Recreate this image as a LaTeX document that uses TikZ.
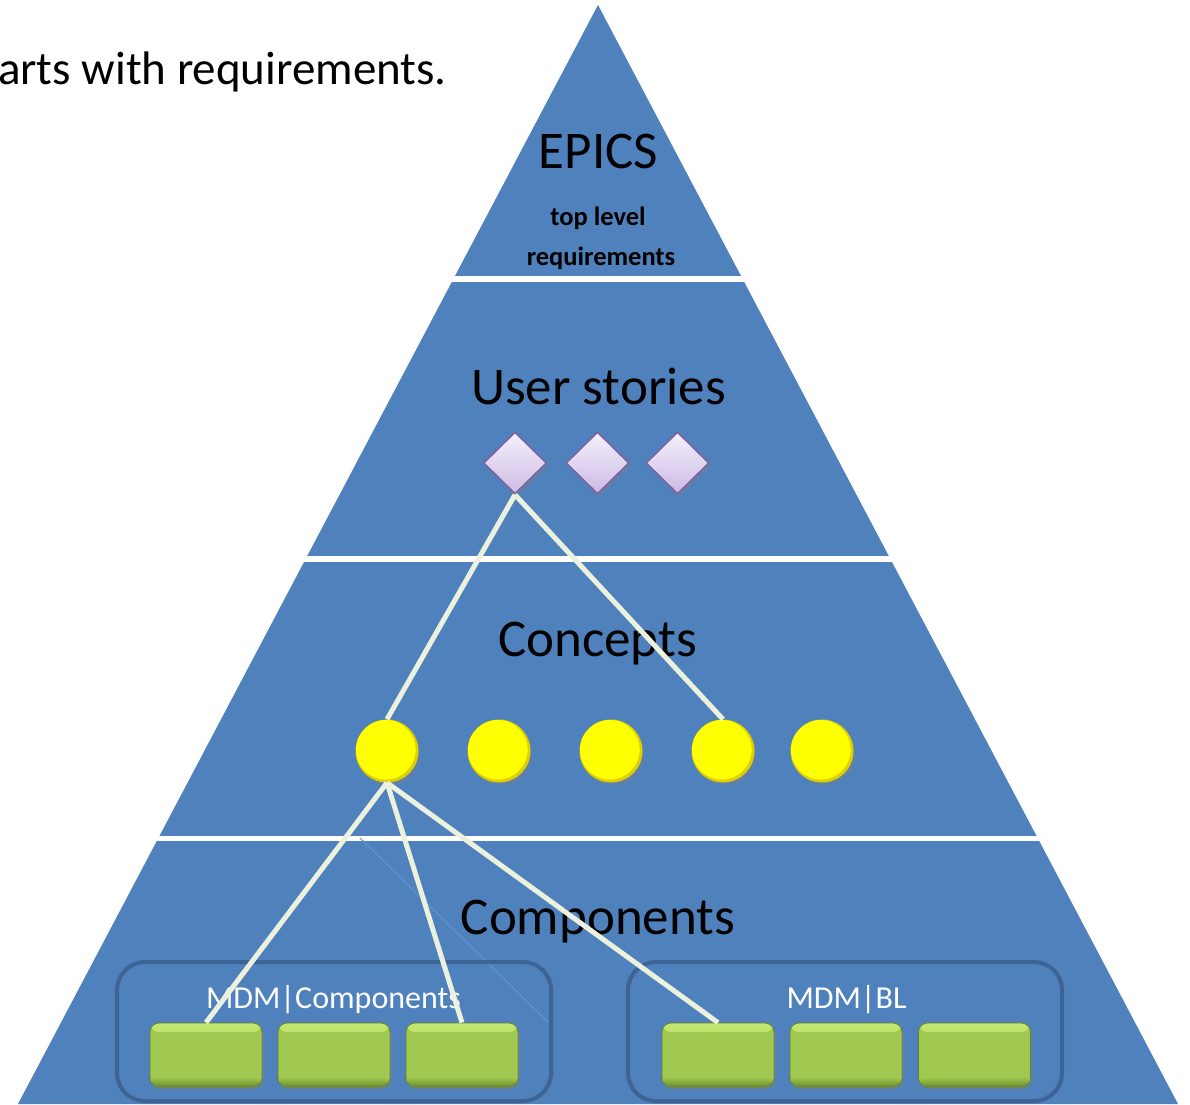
\documentclass[tikz,border=0pt]{standalone}
\usepackage{fontspec}
\setmainfont{Carlito}
\usetikzlibrary{shapes.geometric,shadows}
\definecolor{pyr}{RGB}{79,129,189}
\definecolor{linkc}{RGB}{236,241,222}
\definecolor{grpc}{RGB}{62,100,150}
\definecolor{diaTop}{RGB}{245,241,252}
\definecolor{diaBot}{RGB}{204,186,228}
\definecolor{diaBd}{RGB}{128,96,160}
\definecolor{ballc}{RGB}{255,255,0}
\definecolor{ballrim}{RGB}{222,208,0}
\definecolor{grHi}{RGB}{196,230,110}
\definecolor{grMid}{RGB}{160,200,80}
\definecolor{grLo}{RGB}{108,138,42}
\definecolor{grBd}{RGB}{104,130,40}
\definecolor{faint}{RGB}{98,148,208}
\begin{document}
\begin{tikzpicture}[x=1pt,y=-1pt,
  title/.style={font=\fontsize{53}{60}\selectfont, text=black, inner sep=0, anchor=base},
  smalltxt/.style={font=\bfseries\fontsize{26.5}{30}\selectfont, text=black, inner sep=0, anchor=base},
  story/.style={diamond, minimum width=63pt, minimum height=62pt, inner sep=0,
    draw=diaBd, line width=1.5pt, top color=diaTop, bottom color=diaBot,
    drop shadow={opacity=0.35, shadow xshift=2pt, shadow yshift=-3pt}},
  concept/.style={circle, minimum size=63pt, inner sep=0, fill=ballrim,
    path picture={\fill[ballc] ([xshift=-1.2pt,yshift=1.2pt]path picture bounding box.center) circle (29.8pt);},
    drop shadow={opacity=0.35, shadow xshift=2pt, shadow yshift=-3pt}},
  comp/.style={rectangle, rounded corners=9pt, minimum width=112pt, minimum height=64pt,
    inner sep=0, draw=grBd, line width=0.8pt, fill=grMid,
    path picture={
      \fill[top color=grHi, bottom color=grMid] (path picture bounding box.north west) rectangle ([yshift=-9pt]path picture bounding box.north east);
      \fill[top color=grMid, bottom color=grLo] ([yshift=10pt]path picture bounding box.south west) rectangle (path picture bounding box.south east);},
    drop shadow={opacity=0.35, shadow xshift=2pt, shadow yshift=-3pt}},
  groupbox/.style={rectangle, draw=grpc, line width=4pt, rounded corners=28pt,
    minimum width=434pt, minimum height=139pt, inner sep=0},
  glabel/.style={text=white, font=\fontsize{32}{38}\selectfont, anchor=base, inner sep=0},
  link/.style={draw=linkc, line width=5pt}]
\useasboundingbox (0,0) rectangle (1190,1104);
% pyramid
\fill[pyr] (598,5) -- (1178,1104) -- (18,1104) -- cycle;
\fill[white] (0,275.5) rectangle (1190,281.5);
\fill[white] (0,555.5) rectangle (1190,561.5);
\fill[white] (0,835.5) rectangle (1190,841);
\draw[faint, line width=1pt] (360,838) -- (548,1022);
% caption
\node[font=\fontsize{47}{56}\selectfont, inner sep=0, anchor=base east] (cap) at (447,84) {arts with requirements.};
% layer titles
\node[title] (tEpics) at (598.5,168) {EPICS};
\node[smalltxt] (tTop) at (598,225) {top level};
\node[smalltxt] (tReq) at (601,265) {requirements};
\node[title] (tUser) at (598.5,404) {User stories};
\node[title] (tConc) at (597.5,656) {Concepts};
\node[title] (tComp) at (598,934) {Components};
% groups
\node[groupbox] (g1) at (334,1031.5) {};
\node[groupbox] (g2) at (845,1031.5) {};
\node[glabel] (gl1) at (333.5,1008) {MDM|Components};
\node[glabel] (gl2) at (846.5,1008) {MDM|BL};
% user stories
\node[story] (d1) at (515,463) {};
\node[story] (d2) at (597.5,463) {};
\node[story] (d3) at (677.5,463) {};
% concepts
\node[concept] (c1) at (387,751) {};
\node[concept] (c2) at (499,751) {};
\node[concept] (c3) at (611,751) {};
\node[concept] (c4) at (723,751) {};
\node[concept] (c5) at (822,751) {};
% components
\node[comp] (b1) at (206,1055) {};
\node[comp] (b2) at (334,1055) {};
\node[comp] (b3) at (462,1055) {};
\node[comp] (b4) at (718,1055) {};
\node[comp] (b5) at (846,1055) {};
\node[comp] (b6) at (974.5,1055) {};
% links
\draw[link] (d1.south) -- (c1.north);
\draw[link] (d1.south) -- (c4.north);
\draw[link] (c1.south) -- (b1.north);
\draw[link] (c1.south) -- (b3.north);
\draw[link] (c1.south) -- (b4.north);
\end{tikzpicture}
\end{document}
